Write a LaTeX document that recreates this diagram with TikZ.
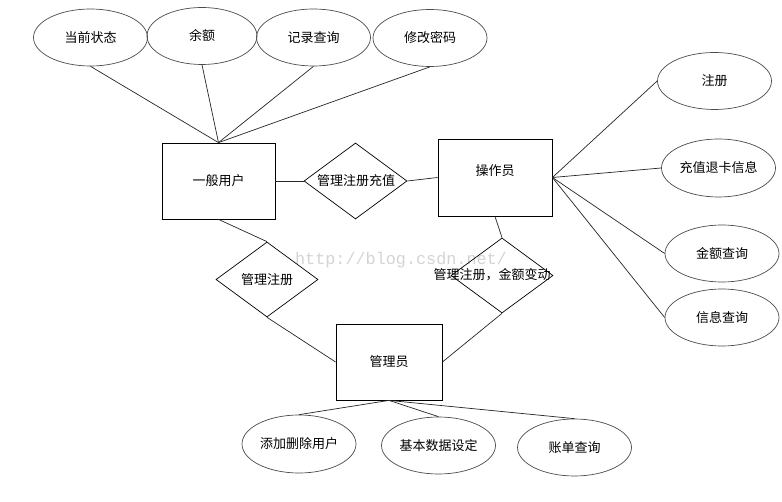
\documentclass[tikz,border=0pt]{standalone}
\usepackage{fontspec}
\newfontfamily\cjk{Noto Sans CJK SC}
\newfontfamily\wmfont{Liberation Mono}
\usetikzlibrary{shapes.geometric}
\tikzset{
  attr/.style={ellipse, draw=black!70, line width=0.7pt, inner sep=0pt,
    minimum width=114pt, minimum height=57pt},
  ent/.style={rectangle, draw=black, line width=0.8pt, inner sep=0pt},
  rel/.style={diamond, draw=black, line width=0.7pt, inner sep=0pt,
    minimum width=102pt, minimum height=75pt},
  conn/.style={draw=black!85, line width=0.7pt},
  every node/.style={font=\cjk\fontsize{13}{15}\selectfont}
}
\begin{document}
\begin{tikzpicture}[x=1pt, y=-1pt]
\useasboundingbox[fill=white] (0,0) rectangle (782,502);
% watermark
\node[font=\wmfont\fontsize{16.8}{18}\selectfont, text=black!17, anchor=base] (wm) at (401,265) {http://blog.csdn.net/};
% entities
\node[ent, minimum width=113pt, minimum height=76pt] (user) at (218.5,181) {一般用户};
\node[ent, minimum width=114pt, minimum height=77pt, label={[yshift=7pt]center:操作员}] (op) at (495,177.5) {};
\node[ent, minimum width=106pt, minimum height=76pt] (adm) at (389,362) {管理员};
% relations
\node[rel, minimum width=103pt, minimum height=76pt] (d1) at (355.5,181) {};
\node (d1t) at (356,181) {管理注册充值};
\node[rel] (d2) at (267,279.5) {};
\node (d2t) at (267,279.5) {管理注册};
\node[rel] (d3) at (502,275.5) {};
\node (d3t) at (492,275) {管理注册，金额变动};
% attributes of user
\node[attr] (a1) at (90.5,37.5) {当前状态};
\node[attr, minimum width=110pt] (a2) at (202,36) {余额};
\node[attr] (a3) at (313.5,37.5) {记录查询};
\node[attr] (a4) at (430,38) {修改密码};
% attributes of operator
\node[attr] (o1) at (714.5,81) {注册};
\node[attr, minimum height=58pt] (o2) at (718.5,168) {充值退卡信息};
\node[attr] (o3) at (722,253.5) {金额查询};
\node[attr] (o4) at (722,317.5) {信息查询};
% attributes of admin
\node[attr, minimum height=58pt] (b1) at (299,444) {添加删除用户};
\node[attr] (b2) at (438.5,445.5) {基本数据设定};
\node[attr] (b3) at (574.5,447.5) {账单查询};
% connectors
\draw[conn] (a1.south) -- (user.north);
\draw[conn] (a2.south) -- (user.north);
\draw[conn] (a3.south) -- (user.north);
\draw[conn] (a4.south) -- (user.north);
\draw[conn] (user.east) -- (d1.west);
\draw[conn] (d1.east) -- (op.west);
\draw[conn] (user.south) -- (d2.north);
\draw[conn] (d2.south) -- (adm.west);
\draw[conn] (op.south) -- (d3.north);
\draw[conn] (d3.south) -- (adm.east);
\draw[conn] (op.east) -- (o1.west);
\draw[conn] (op.east) -- (o2.west);
\draw[conn] (op.east) -- (o3.west);
\draw[conn] (op.east) -- (o4.west);
\draw[conn] (adm.south) -- (b1.north);
\draw[conn] (adm.south) -- (b2.north);
\draw[conn] (adm.south) -- (b3.north);
\end{tikzpicture}
\end{document}
